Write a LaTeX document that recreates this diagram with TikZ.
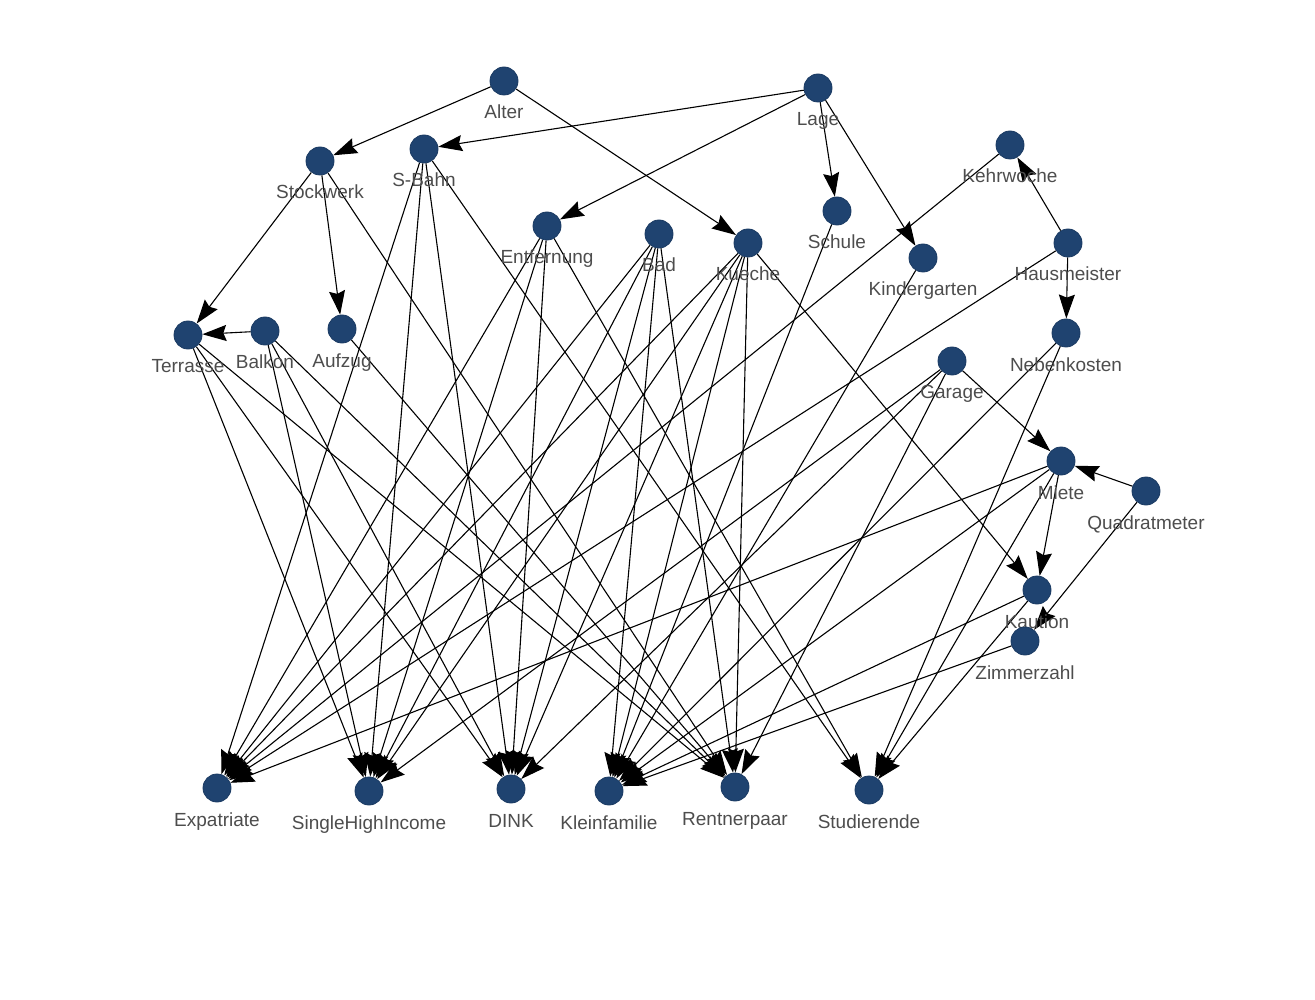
\documentclass[tikz,border=0pt]{standalone}
\usepackage{fontspec}
\setmainfont{Liberation Sans}
\usetikzlibrary{arrows.meta}
\definecolor{nodeblue}{RGB}{31,67,112}
\definecolor{nodeedge}{RGB}{26,58,98}
\definecolor{labelgray}{RGB}{77,77,77}
\pgfdeclarelayer{bg}
\pgfsetlayers{bg,main}
\begin{document}
\begin{tikzpicture}[x=1pt,y=-1pt,
  dot/.style={circle,fill=nodeblue,draw=nodeedge,line width=0.8pt,minimum size=28pt,inner sep=0pt},
  lbl/.style={anchor=base,text=labelgray,font=\fontsize{19}{22}\selectfont,inner sep=0pt},
  link/.style={draw=black,line width=1.1pt,-{Stealth[length=24pt,width=16pt,inset=3pt]}}
]
\useasboundingbox (0,0) rectangle (1315,1000);
\newcommand{\vnode}[4]{%
  \node[dot] (#1) at (#2,#3) {};
  \path (#1.center) ++(0,38) node[lbl] (#1-l) {#4};}
\vnode{alter}{504}{81}{Alter}
\vnode{lage}{818}{88}{Lage}
\vnode{stock}{320}{161}{Stockwerk}
\vnode{sbahn}{424}{149}{S-Bahn}
\vnode{kehr}{1010}{145}{Kehrwoche}
\vnode{entf}{547}{226}{Entfernung}
\vnode{bad}{659}{234}{Bad}
\vnode{kueche}{748}{243}{Kueche}
\vnode{schule}{837}{211}{Schule}
\vnode{kiga}{923}{258}{Kindergarten}
\vnode{haus}{1068}{243}{Hausmeister}
\vnode{terr}{188}{335}{Terrasse}
\vnode{balkon}{265}{331}{Balkon}
\vnode{aufzug}{342}{329}{Aufzug}
\vnode{neben}{1066}{333}{Nebenkosten}
\vnode{garage}{952}{361}{Garage}
\vnode{miete}{1061}{461}{Miete}
\vnode{qm}{1146}{491}{Quadratmeter}
\vnode{kaution}{1037}{590}{Kaution}
\vnode{zimmer}{1025}{641}{Zimmerzahl}
\vnode{expat}{217}{788}{Expatriate}
\vnode{shi}{369}{791}{SingleHighIncome}
\vnode{dink}{511}{789}{DINK}
\vnode{klein}{609}{791}{Kleinfamilie}
\vnode{rentner}{735}{787}{Rentnerpaar}
\vnode{stud}{869}{790}{Studierende}
\begin{pgfonlayer}{bg}
\foreach \a/\b in {alter/stock, alter/kueche, lage/sbahn, lage/entf, lage/schule, lage/kiga,
  stock/terr, stock/aufzug, stock/rentner, balkon/terr, haus/kehr, haus/neben, haus/expat,
  kehr/expat, garage/miete, garage/shi, garage/dink, garage/rentner, qm/miete, qm/zimmer,
  miete/kaution, miete/klein, miete/stud, miete/expat, kueche/kaution,
  kueche/expat, kueche/shi, kueche/dink, kueche/klein, kueche/rentner,
  bad/expat, bad/shi, bad/dink, bad/klein, bad/rentner,
  entf/expat, entf/shi, entf/dink, entf/stud,
  sbahn/expat, sbahn/shi, sbahn/dink, sbahn/stud,
  terr/shi, terr/dink, terr/rentner, balkon/shi, balkon/dink, balkon/rentner,
  aufzug/rentner, schule/klein, kiga/klein, neben/klein, neben/stud,
  kaution/klein, kaution/stud, zimmer/klein}
  \draw[link] (\a) -- (\b);
\end{pgfonlayer}
\end{tikzpicture}
\end{document}
